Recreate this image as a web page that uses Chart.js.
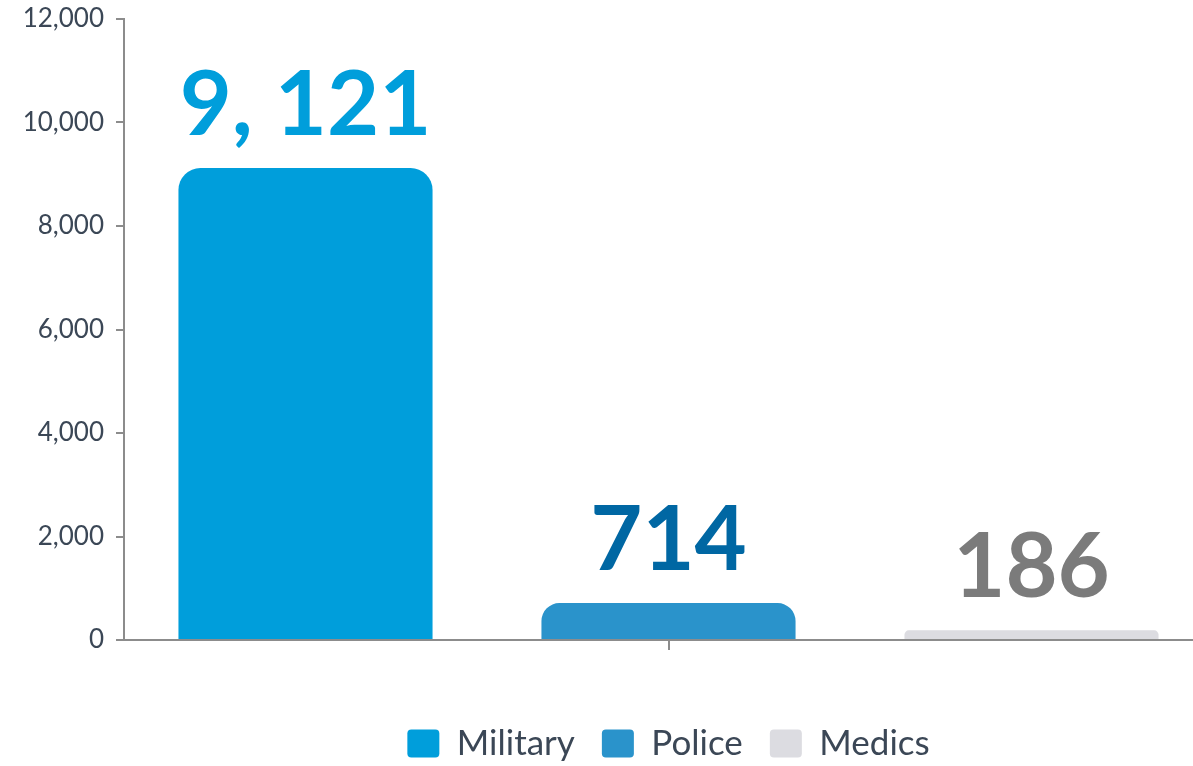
<!DOCTYPE html>
<html>
<head>
<meta charset="utf-8">
<script src="https://cdn.jsdelivr.net/npm/chart.js@4/dist/chart.umd.min.js"></script>
<style>
  html, body { margin: 0; padding: 0; background: #fff; overflow: hidden; }
  #wrap { width: 1213px; height: 766px; }
</style>
</head>
<body>
<div id="wrap"><canvas id="grafico"></canvas></div>
<script>
const categories = [''];
const seriesNames = ['Military', 'Police', 'Medics'];
const seriesValues = [9121, 714, 186];
const barColors = ['#009edb', '#2a93cb', '#dcdce1'];
const labelColors = ['#009edb', '#0067a3', '#7b7b7b'];
const yTicks = [0, 2000, 4000, 6000, 8000, 10000, 12000];

const inkColor = '#3b4756';
const axisColor = '#8c8c8c';

// etiquetas grandes encima de cada barra
const valueLabels = {
  id: 'valueLabels',
  afterDatasetsDraw(chart) {
    const ctx = chart.ctx;
    ctx.save();
    ctx.font = 'bold 90px Lato';
    ctx.textAlign = 'center';
    ctx.textBaseline = 'alphabetic';
    chart.data.datasets.forEach((ds, i) => {
      const bar = chart.getDatasetMeta(i).data[0];
      const txt = ds.data[0].toLocaleString('en-US').replace(',', ', ');
      ctx.fillStyle = labelColors[i];
      ctx.fillText(txt, bar.x, bar.y - 33);
    });
    ctx.restore();
  }
};

const datasets = seriesNames.map((name, i) => ({
  label: name,
  data: [seriesValues[i]],
  backgroundColor: barColors[i],
  borderRadius: { topLeft: 22, topRight: 22 },
  borderSkipped: 'bottom',
  barPercentage: 0.7,
  categoryPercentage: 1.0
}));

const config = {
  type: 'bar',
  data: { labels: categories, datasets: datasets },
  options: {
    responsive: true,
    maintainAspectRatio: false,
    animation: false,
    layout: { padding: { top: 19, right: 0, left: 0, bottom: -5 } },
    plugins: {
      tooltip: { enabled: false },
      legend: {
        position: 'bottom',
        fullSize: false,
        labels: {
          font: { family: 'Lato', size: 35 },
          color: inkColor,
          boxWidth: 32,
          boxHeight: 28,
          useBorderRadius: true,
          borderRadius: 4,
          padding: 27
        }
      }
    },
    scales: {
      x: {
        grid: { drawOnChartArea: false, offset: false, color: axisColor, tickLength: 10, lineWidth: 2 },
        border: { color: axisColor, width: 2 },
        ticks: { display: true, callback: () => '' },
        afterFit: (scale) => { scale.height = 59; }
      },
      y: {
        min: 0,
        max: 12000,
        afterBuildTicks: (scale) => { scale.ticks = yTicks.map(v => ({ value: v })); },
        grid: { drawOnChartArea: false, color: axisColor, tickLength: 8, lineWidth: 2 },
        border: { color: axisColor, width: 2 },
        ticks: {
          font: { family: 'Lato', size: 26 },
          color: inkColor,
          padding: 12,
          callback: (v) => v.toLocaleString('en-US')
        },
        afterFit: (scale) => {
          scale.width = 124;
          scale.paddingTop = 0;
          scale.paddingBottom = 0;
        }
      }
    }
  },
  plugins: [valueLabels]
};

const myChart = new Chart(document.getElementById('grafico'), config);
</script>
</body>
</html>
